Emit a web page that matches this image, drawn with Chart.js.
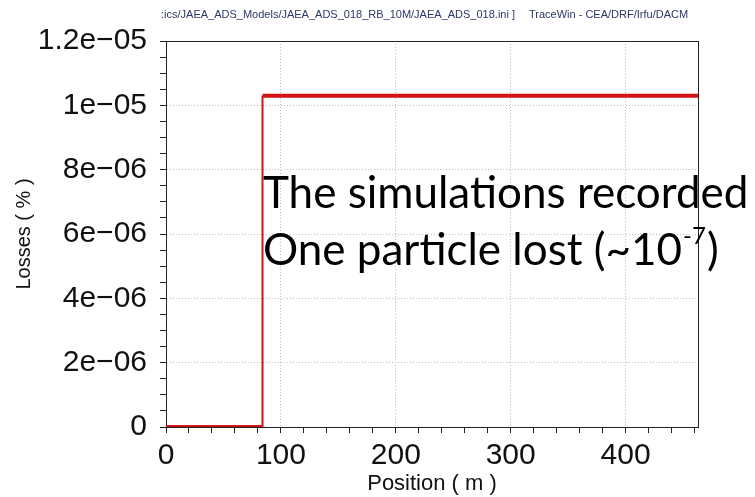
<!DOCTYPE html>
<html>
<head>
<meta charset="utf-8">
<script src="https://cdn.jsdelivr.net/npm/chart.js@4.4.1/dist/chart.umd.min.js"></script>
<style>
  html, body { margin: 0; padding: 0; background: #fff; }
  #wrap { width: 755px; height: 497px; position: relative; }
</style>
</head>
<body>
<div id="wrap"><canvas id="lossChart" width="755" height="497"></canvas></div>
<script>
// losses along the linac (TraceWin output)
const positions = [0, 84, 84, 463];
const losses = [0, 0, 1.03e-5, 1.03e-5];

const xMajorTicks = [0, 100, 200, 300, 400];
const xTickLabels = ['0', '100', '200', '300', '400'];
const xMinorStep = 20;
const yMajorTicks = [0, 2e-6, 4e-6, 6e-6, 8e-6, 1e-5, 1.2e-5];
const yTickLabels = ['0', '2e\u221206', '4e\u221206', '6e\u221206', '8e\u221206', '1e\u221205', '1.2e\u221205'];
const yMinorStep = 5e-7;

const headerPath = ':ics/JAEA_ADS_Models/JAEA_ADS_018_RB_10M/JAEA_ADS_018.ini ]';
const headerApp = 'TraceWin - CEA/DRF/Irfu/DACM';
const noteLine1 = 'The simulations recorded';
const noteLine2 = 'One particle lost (~10';
const noteExp = '-7';

function majorIndex(list, v, step) {
    for (let i = 0; i < list.length; i++) {
        if (Math.abs(list[i] - v) < step * 0.01) return i;
    }
    return -1;
}

// minor ticks every step, labels only on the majors
function buildTicks(scale, step) {
    const ticks = [];
    const n = Math.floor((scale.max - scale.min) / step + 1e-6);
    for (let i = 0; i <= n; i++) ticks.push({ value: scale.min + i * step });
    scale.ticks = ticks;
}

const framePlugin = {
    id: 'frame',
    beforeDatasetsDraw(chart) {
        const a = chart.chartArea;
        const ctx = chart.ctx;
        ctx.save();
        ctx.strokeStyle = '#222';
        ctx.lineWidth = 1;
        ctx.strokeRect(Math.round(a.left) + 0.5, Math.round(a.top) + 0.5,
            Math.round(a.right - a.left), Math.round(a.bottom - a.top));
        ctx.restore();
    }
};

const textPlugin = {
    id: 'notes',
    afterDraw(chart) {
        const ctx = chart.ctx;
        ctx.save();
        // header line
        ctx.font = '11px "Liberation Sans", Arial, sans-serif';
        ctx.fillStyle = '#2c3868';
        ctx.textBaseline = 'middle';
        ctx.fillText(headerPath, 161, 15);
        ctx.fillText(headerApp, 529, 15);

        // annotation
        const big = '44px Lato, "Open Sans", sans-serif';
        ctx.fillStyle = '#000';
        ctx.textBaseline = 'alphabetic';
        ctx.font = big;
        ctx.fillText(noteLine1, 263, 208);
        ctx.fillText(noteLine2, 263, 265);
        let x = 263 + ctx.measureText(noteLine2).width;
        ctx.font = '24px Lato, "Open Sans", sans-serif';
        ctx.fillText(noteExp, x + 1, 244);
        x += ctx.measureText(noteExp).width + 2;
        ctx.font = big;
        ctx.fillText(')', x, 265);
        ctx.restore();
    }
};

const tickFont = { family: '"Liberation Sans", Arial, sans-serif', size: 30 };

new Chart(document.getElementById('lossChart'), {
    type: 'line',
    data: {
        datasets: [{
            data: positions.map((p, i) => ({ x: p, y: losses[i] })),
            borderColor: '#d41414',
            borderWidth: 4,
            pointRadius: 0,
            fill: false,
            tension: 0,
            segment: {
                borderWidth: ctx => ctx.p0.parsed.x === ctx.p1.parsed.x ? 2 : 4
            }
        }]
    },
    options: {
        responsive: false,
        animation: false,
        layout: { padding: { top: 41, right: 57, left: 0, bottom: 0 } },
        plugins: {
            legend: { display: false },
            tooltip: { enabled: false }
        },
        scales: {
            x: {
                type: 'linear',
                min: 0,
                max: 463,
                afterBuildTicks: s => buildTicks(s, xMinorStep),
                afterFit: s => { s.height = 70; },
                ticks: {
                    autoSkip: false,
                    maxRotation: 0,
                    padding: 5,
                    color: '#111',
                    font: tickFont,
                    callback: v => {
                        const i = majorIndex(xMajorTicks, v, xMinorStep);
                        return i >= 0 ? xTickLabels[i] : '';
                    }
                },
                grid: {
                    color: c => (c.tick && majorIndex(xMajorTicks, c.tick.value, xMinorStep) > 0) ? '#bdbdbd' : 'rgba(0,0,0,0)',
                    lineWidth: 1,
                    tickColor: '#222',
                    tickLength: 6,
                    drawTicks: true
                },
                border: { display: true, color: '#222', width: 1, dash: [1, 2] },
                title: {
                    display: true,
                    text: 'Position ( m )',
                    color: '#111',
                    font: { family: '"Liberation Sans", Arial, sans-serif', size: 22 },
                    padding: { top: 0, bottom: 0 }
                }
            },
            y: {
                type: 'linear',
                min: 0,
                max: 1.2e-5,
                afterBuildTicks: s => buildTicks(s, yMinorStep),
                afterFit: s => { s.width = 166; },
                ticks: {
                    autoSkip: false,
                    padding: 13,
                    color: '#111',
                    font: tickFont,
                    callback: v => {
                        const i = majorIndex(yMajorTicks, v, yMinorStep);
                        return i >= 0 ? yTickLabels[i] : '';
                    }
                },
                grid: {
                    color: c => (c.tick && majorIndex(yMajorTicks, c.tick.value, yMinorStep) > 0) ? '#bdbdbd' : 'rgba(0,0,0,0)',
                    lineWidth: 1,
                    tickColor: '#222',
                    tickLength: 6,
                    drawTicks: true
                },
                border: { display: true, color: '#222', width: 1, dash: [1, 2] },
                title: {
                    display: true,
                    text: 'Losses ( % )',
                    color: '#111',
                    font: { family: '"Liberation Sans", Arial, sans-serif', size: 20 },
                    padding: { top: 12, bottom: 0 }
                }
            }
        }
    },
    plugins: [framePlugin, textPlugin]
});
</script>
</body>
</html>
